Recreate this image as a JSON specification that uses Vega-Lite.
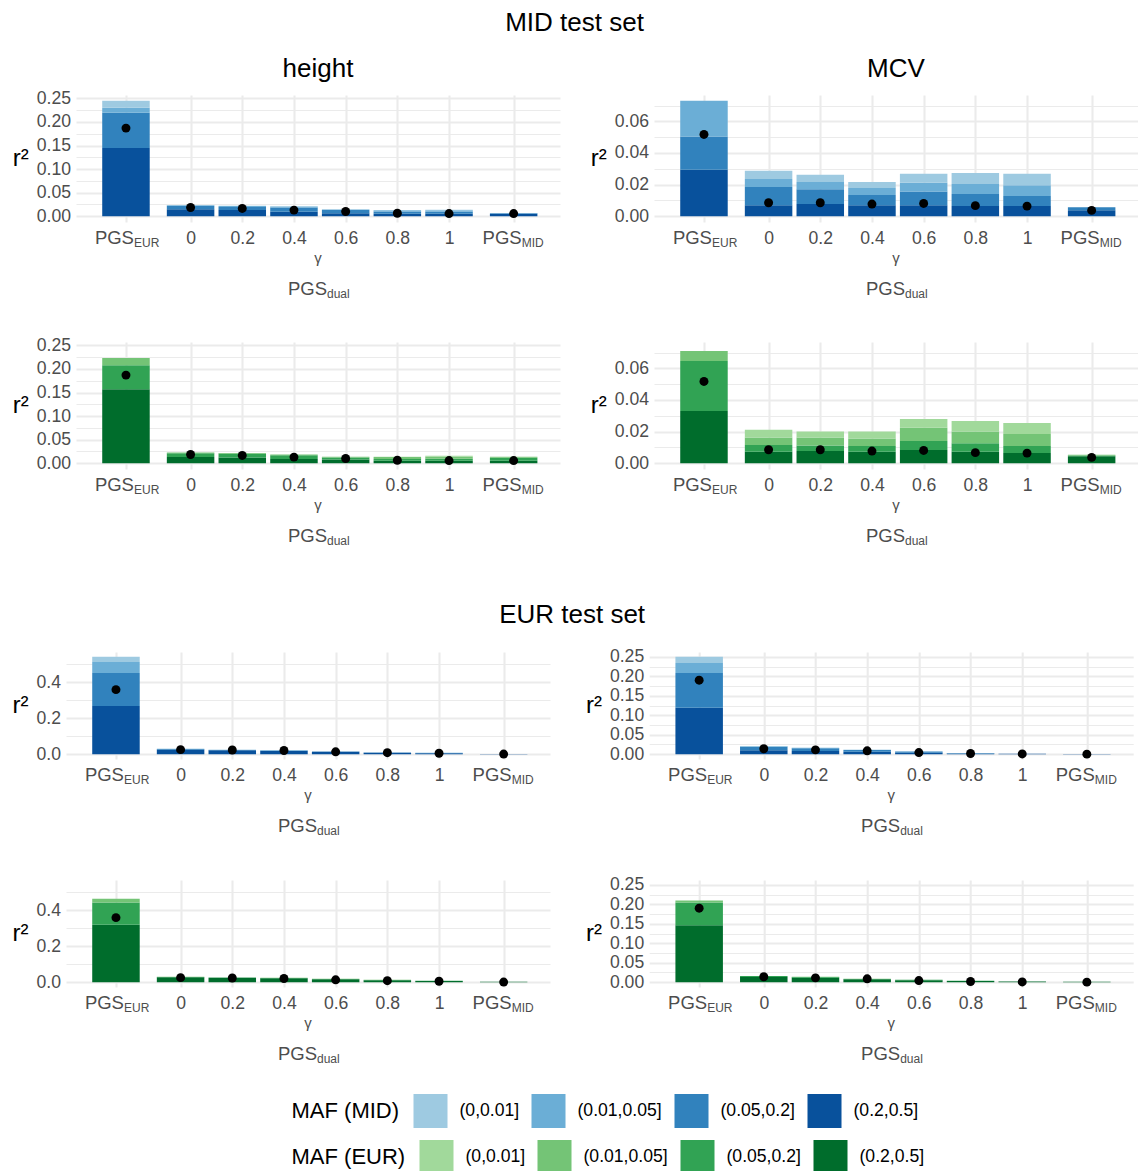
{
"$schema": "https://vega.github.io/schema/vega-lite/v6.json",
"padding": {"left": 11, "top": 10, "right": 0, "bottom": 0},
"background": "white",
"datasets": {
"bars": [
{"test":"MID","trait":"height","ref":"MID","pos":-0.25,"maf":"(0.2,0.5]","r2":0.145},
{"test":"MID","trait":"height","ref":"MID","pos":-0.25,"maf":"(0.05,0.2]","r2":0.0745},
{"test":"MID","trait":"height","ref":"MID","pos":-0.25,"maf":"(0.01,0.05]","r2":0.0105},
{"test":"MID","trait":"height","ref":"MID","pos":-0.25,"maf":"(0,0.01]","r2":0.015},
{"test":"MID","trait":"height","ref":"MID","pos":0,"maf":"(0.2,0.5]","r2":0.015},
{"test":"MID","trait":"height","ref":"MID","pos":0,"maf":"(0.05,0.2]","r2":0.0065},
{"test":"MID","trait":"height","ref":"MID","pos":0,"maf":"(0.01,0.05]","r2":0.002},
{"test":"MID","trait":"height","ref":"MID","pos":0,"maf":"(0,0.01]","r2":0.0005},
{"test":"MID","trait":"height","ref":"MID","pos":0.2,"maf":"(0.2,0.5]","r2":0.013},
{"test":"MID","trait":"height","ref":"MID","pos":0.2,"maf":"(0.05,0.2]","r2":0.0065},
{"test":"MID","trait":"height","ref":"MID","pos":0.2,"maf":"(0.01,0.05]","r2":0.002},
{"test":"MID","trait":"height","ref":"MID","pos":0.2,"maf":"(0,0.01]","r2":0.0005},
{"test":"MID","trait":"height","ref":"MID","pos":0.4,"maf":"(0.2,0.5]","r2":0.0095},
{"test":"MID","trait":"height","ref":"MID","pos":0.4,"maf":"(0.05,0.2]","r2":0.009},
{"test":"MID","trait":"height","ref":"MID","pos":0.4,"maf":"(0.01,0.05]","r2":0.002},
{"test":"MID","trait":"height","ref":"MID","pos":0.4,"maf":"(0,0.01]","r2":0.0005},
{"test":"MID","trait":"height","ref":"MID","pos":0.6,"maf":"(0.2,0.5]","r2":0.0065},
{"test":"MID","trait":"height","ref":"MID","pos":0.6,"maf":"(0.05,0.2]","r2":0.0065},
{"test":"MID","trait":"height","ref":"MID","pos":0.6,"maf":"(0.01,0.05]","r2":0.0015},
{"test":"MID","trait":"height","ref":"MID","pos":0.6,"maf":"(0,0.01]","r2":0.0005},
{"test":"MID","trait":"height","ref":"MID","pos":0.8,"maf":"(0.2,0.5]","r2":0.005},
{"test":"MID","trait":"height","ref":"MID","pos":0.8,"maf":"(0.05,0.2]","r2":0.005},
{"test":"MID","trait":"height","ref":"MID","pos":0.8,"maf":"(0.01,0.05]","r2":0.0025},
{"test":"MID","trait":"height","ref":"MID","pos":0.8,"maf":"(0,0.01]","r2":0.0005},
{"test":"MID","trait":"height","ref":"MID","pos":1,"maf":"(0.2,0.5]","r2":0.005},
{"test":"MID","trait":"height","ref":"MID","pos":1,"maf":"(0.05,0.2]","r2":0.0045},
{"test":"MID","trait":"height","ref":"MID","pos":1,"maf":"(0.01,0.05]","r2":0.003},
{"test":"MID","trait":"height","ref":"MID","pos":1,"maf":"(0,0.01]","r2":0.001},
{"test":"MID","trait":"height","ref":"MID","pos":1.25,"maf":"(0.2,0.5]","r2":0.005},
{"test":"MID","trait":"height","ref":"MID","pos":1.25,"maf":"(0.05,0.2]","r2":0.0015},
{"test":"MID","trait":"height","ref":"MID","pos":1.25,"maf":"(0.01,0.05]","r2":0.0003},
{"test":"MID","trait":"height","ref":"MID","pos":1.25,"maf":"(0,0.01]","r2":0.0002},

{"test":"MID","trait":"height","ref":"EUR","pos":-0.25,"maf_eur":"(0.2,0.5]","r2":0.157},
{"test":"MID","trait":"height","ref":"EUR","pos":-0.25,"maf_eur":"(0.05,0.2]","r2":0.0507},
{"test":"MID","trait":"height","ref":"EUR","pos":-0.25,"maf_eur":"(0.01,0.05]","r2":0.0155},
{"test":"MID","trait":"height","ref":"EUR","pos":0,"maf_eur":"(0.2,0.5]","r2":0.013},
{"test":"MID","trait":"height","ref":"EUR","pos":0,"maf_eur":"(0.05,0.2]","r2":0.008},
{"test":"MID","trait":"height","ref":"EUR","pos":0,"maf_eur":"(0.01,0.05]","r2":0.0015},
{"test":"MID","trait":"height","ref":"EUR","pos":0.2,"maf_eur":"(0.2,0.5]","r2":0.012},
{"test":"MID","trait":"height","ref":"EUR","pos":0.2,"maf_eur":"(0.05,0.2]","r2":0.008},
{"test":"MID","trait":"height","ref":"EUR","pos":0.2,"maf_eur":"(0.01,0.05]","r2":0.0018},
{"test":"MID","trait":"height","ref":"EUR","pos":0.4,"maf_eur":"(0.2,0.5]","r2":0.009},
{"test":"MID","trait":"height","ref":"EUR","pos":0.4,"maf_eur":"(0.05,0.2]","r2":0.008},
{"test":"MID","trait":"height","ref":"EUR","pos":0.4,"maf_eur":"(0.01,0.05]","r2":0.0015},
{"test":"MID","trait":"height","ref":"EUR","pos":0.6,"maf_eur":"(0.2,0.5]","r2":0.0078},
{"test":"MID","trait":"height","ref":"EUR","pos":0.6,"maf_eur":"(0.05,0.2]","r2":0.0045},
{"test":"MID","trait":"height","ref":"EUR","pos":0.6,"maf_eur":"(0.01,0.05]","r2":0.0015},
{"test":"MID","trait":"height","ref":"EUR","pos":0.6,"maf_eur":"(0,0.01]","r2":0.0002},
{"test":"MID","trait":"height","ref":"EUR","pos":0.8,"maf_eur":"(0.2,0.5]","r2":0.005},
{"test":"MID","trait":"height","ref":"EUR","pos":0.8,"maf_eur":"(0.05,0.2]","r2":0.004},
{"test":"MID","trait":"height","ref":"EUR","pos":0.8,"maf_eur":"(0.01,0.05]","r2":0.004},
{"test":"MID","trait":"height","ref":"EUR","pos":0.8,"maf_eur":"(0,0.01]","r2":0.001},
{"test":"MID","trait":"height","ref":"EUR","pos":1,"maf_eur":"(0.2,0.5]","r2":0.005},
{"test":"MID","trait":"height","ref":"EUR","pos":1,"maf_eur":"(0.05,0.2]","r2":0.0045},
{"test":"MID","trait":"height","ref":"EUR","pos":1,"maf_eur":"(0.01,0.05]","r2":0.004},
{"test":"MID","trait":"height","ref":"EUR","pos":1,"maf_eur":"(0,0.01]","r2":0.0025},
{"test":"MID","trait":"height","ref":"EUR","pos":1.25,"maf_eur":"(0.2,0.5]","r2":0.005},
{"test":"MID","trait":"height","ref":"EUR","pos":1.25,"maf_eur":"(0.05,0.2]","r2":0.0065},
{"test":"MID","trait":"height","ref":"EUR","pos":1.25,"maf_eur":"(0.01,0.05]","r2":0.002},
{"test":"MID","trait":"height","ref":"EUR","pos":1.25,"maf_eur":"(0,0.01]","r2":0.0005},

{"test":"MID","trait":"MCV","ref":"MID","pos":-0.25,"maf":"(0.2,0.5]","r2":0.0294},
{"test":"MID","trait":"MCV","ref":"MID","pos":-0.25,"maf":"(0.05,0.2]","r2":0.021},
{"test":"MID","trait":"MCV","ref":"MID","pos":-0.25,"maf":"(0.01,0.05]","r2":0.0226},
{"test":"MID","trait":"MCV","ref":"MID","pos":0,"maf":"(0.2,0.5]","r2":0.007},
{"test":"MID","trait":"MCV","ref":"MID","pos":0,"maf":"(0.05,0.2]","r2":0.0115},
{"test":"MID","trait":"MCV","ref":"MID","pos":0,"maf":"(0.01,0.05]","r2":0.0051},
{"test":"MID","trait":"MCV","ref":"MID","pos":0,"maf":"(0,0.01]","r2":0.0051},
{"test":"MID","trait":"MCV","ref":"MID","pos":0.2,"maf":"(0.2,0.5]","r2":0.0077},
{"test":"MID","trait":"MCV","ref":"MID","pos":0.2,"maf":"(0.05,0.2]","r2":0.0093},
{"test":"MID","trait":"MCV","ref":"MID","pos":0.2,"maf":"(0.01,0.05]","r2":0.0047},
{"test":"MID","trait":"MCV","ref":"MID","pos":0.2,"maf":"(0,0.01]","r2":0.0045},
{"test":"MID","trait":"MCV","ref":"MID","pos":0.4,"maf":"(0.2,0.5]","r2":0.007},
{"test":"MID","trait":"MCV","ref":"MID","pos":0.4,"maf":"(0.05,0.2]","r2":0.0064},
{"test":"MID","trait":"MCV","ref":"MID","pos":0.4,"maf":"(0.01,0.05]","r2":0.0045},
{"test":"MID","trait":"MCV","ref":"MID","pos":0.4,"maf":"(0,0.01]","r2":0.0038},
{"test":"MID","trait":"MCV","ref":"MID","pos":0.6,"maf":"(0.2,0.5]","r2":0.007},
{"test":"MID","trait":"MCV","ref":"MID","pos":0.6,"maf":"(0.05,0.2]","r2":0.0087},
{"test":"MID","trait":"MCV","ref":"MID","pos":0.6,"maf":"(0.01,0.05]","r2":0.0054},
{"test":"MID","trait":"MCV","ref":"MID","pos":0.6,"maf":"(0,0.01]","r2":0.0057},
{"test":"MID","trait":"MCV","ref":"MID","pos":0.8,"maf":"(0.2,0.5]","r2":0.0064},
{"test":"MID","trait":"MCV","ref":"MID","pos":0.8,"maf":"(0.05,0.2]","r2":0.0076},
{"test":"MID","trait":"MCV","ref":"MID","pos":0.8,"maf":"(0.01,0.05]","r2":0.0064},
{"test":"MID","trait":"MCV","ref":"MID","pos":0.8,"maf":"(0,0.01]","r2":0.007},
{"test":"MID","trait":"MCV","ref":"MID","pos":1,"maf":"(0.2,0.5]","r2":0.0064},
{"test":"MID","trait":"MCV","ref":"MID","pos":1,"maf":"(0.05,0.2]","r2":0.0064},
{"test":"MID","trait":"MCV","ref":"MID","pos":1,"maf":"(0.01,0.05]","r2":0.0068},
{"test":"MID","trait":"MCV","ref":"MID","pos":1,"maf":"(0,0.01]","r2":0.0072},
{"test":"MID","trait":"MCV","ref":"MID","pos":1.25,"maf":"(0.2,0.5]","r2":0.0038},
{"test":"MID","trait":"MCV","ref":"MID","pos":1.25,"maf":"(0.05,0.2]","r2":0.0019},

{"test":"MID","trait":"MCV","ref":"EUR","pos":-0.25,"maf_eur":"(0.2,0.5]","r2":0.0331},
{"test":"MID","trait":"MCV","ref":"EUR","pos":-0.25,"maf_eur":"(0.05,0.2]","r2":0.0315},
{"test":"MID","trait":"MCV","ref":"EUR","pos":-0.25,"maf_eur":"(0.01,0.05]","r2":0.0063},
{"test":"MID","trait":"MCV","ref":"EUR","pos":0,"maf_eur":"(0.2,0.5]","r2":0.0072},
{"test":"MID","trait":"MCV","ref":"EUR","pos":0,"maf_eur":"(0.05,0.2]","r2":0.0044},
{"test":"MID","trait":"MCV","ref":"EUR","pos":0,"maf_eur":"(0.01,0.05]","r2":0.0046},
{"test":"MID","trait":"MCV","ref":"EUR","pos":0,"maf_eur":"(0,0.01]","r2":0.0049},
{"test":"MID","trait":"MCV","ref":"EUR","pos":0.2,"maf_eur":"(0.2,0.5]","r2":0.0078},
{"test":"MID","trait":"MCV","ref":"EUR","pos":0.2,"maf_eur":"(0.05,0.2]","r2":0.0034},
{"test":"MID","trait":"MCV","ref":"EUR","pos":0.2,"maf_eur":"(0.01,0.05]","r2":0.005},
{"test":"MID","trait":"MCV","ref":"EUR","pos":0.2,"maf_eur":"(0,0.01]","r2":0.0038},
{"test":"MID","trait":"MCV","ref":"EUR","pos":0.4,"maf_eur":"(0.2,0.5]","r2":0.0072},
{"test":"MID","trait":"MCV","ref":"EUR","pos":0.4,"maf_eur":"(0.05,0.2]","r2":0.0037},
{"test":"MID","trait":"MCV","ref":"EUR","pos":0.4,"maf_eur":"(0.01,0.05]","r2":0.0047},
{"test":"MID","trait":"MCV","ref":"EUR","pos":0.4,"maf_eur":"(0,0.01]","r2":0.0044},
{"test":"MID","trait":"MCV","ref":"EUR","pos":0.6,"maf_eur":"(0.2,0.5]","r2":0.0084},
{"test":"MID","trait":"MCV","ref":"EUR","pos":0.6,"maf_eur":"(0.05,0.2]","r2":0.0057},
{"test":"MID","trait":"MCV","ref":"EUR","pos":0.6,"maf_eur":"(0.01,0.05]","r2":0.0084},
{"test":"MID","trait":"MCV","ref":"EUR","pos":0.6,"maf_eur":"(0,0.01]","r2":0.0055},
{"test":"MID","trait":"MCV","ref":"EUR","pos":0.8,"maf_eur":"(0.2,0.5]","r2":0.0072},
{"test":"MID","trait":"MCV","ref":"EUR","pos":0.8,"maf_eur":"(0.05,0.2]","r2":0.0054},
{"test":"MID","trait":"MCV","ref":"EUR","pos":0.8,"maf_eur":"(0.01,0.05]","r2":0.0074},
{"test":"MID","trait":"MCV","ref":"EUR","pos":0.8,"maf_eur":"(0,0.01]","r2":0.0067},
{"test":"MID","trait":"MCV","ref":"EUR","pos":1,"maf_eur":"(0.2,0.5]","r2":0.0065},
{"test":"MID","trait":"MCV","ref":"EUR","pos":1,"maf_eur":"(0.05,0.2]","r2":0.0044},
{"test":"MID","trait":"MCV","ref":"EUR","pos":1,"maf_eur":"(0.01,0.05]","r2":0.0076},
{"test":"MID","trait":"MCV","ref":"EUR","pos":1,"maf_eur":"(0,0.01]","r2":0.007},
{"test":"MID","trait":"MCV","ref":"EUR","pos":1.25,"maf_eur":"(0.2,0.5]","r2":0.0044},
{"test":"MID","trait":"MCV","ref":"EUR","pos":1.25,"maf_eur":"(0.05,0.2]","r2":0.0005},
{"test":"MID","trait":"MCV","ref":"EUR","pos":1.25,"maf_eur":"(0.01,0.05]","r2":0.0004},

{"test":"EUR","trait":"height","ref":"MID","pos":-0.25,"maf":"(0.2,0.5]","r2":0.267},
{"test":"EUR","trait":"height","ref":"MID","pos":-0.25,"maf":"(0.05,0.2]","r2":0.183},
{"test":"EUR","trait":"height","ref":"MID","pos":-0.25,"maf":"(0.01,0.05]","r2":0.062},
{"test":"EUR","trait":"height","ref":"MID","pos":-0.25,"maf":"(0,0.01]","r2":0.028},
{"test":"EUR","trait":"height","ref":"MID","pos":0,"maf":"(0.2,0.5]","r2":0.025},
{"test":"EUR","trait":"height","ref":"MID","pos":0,"maf":"(0.05,0.2]","r2":0.003},
{"test":"EUR","trait":"height","ref":"MID","pos":0,"maf":"(0.01,0.05]","r2":0.002},
{"test":"EUR","trait":"height","ref":"MID","pos":0.2,"maf":"(0.2,0.5]","r2":0.021},
{"test":"EUR","trait":"height","ref":"MID","pos":0.2,"maf":"(0.05,0.2]","r2":0.002},
{"test":"EUR","trait":"height","ref":"MID","pos":0.2,"maf":"(0.01,0.05]","r2":0.001},
{"test":"EUR","trait":"height","ref":"MID","pos":0.4,"maf":"(0.2,0.5]","r2":0.018},
{"test":"EUR","trait":"height","ref":"MID","pos":0.4,"maf":"(0.05,0.2]","r2":0.002},
{"test":"EUR","trait":"height","ref":"MID","pos":0.4,"maf":"(0.01,0.05]","r2":0.001},
{"test":"EUR","trait":"height","ref":"MID","pos":0.6,"maf":"(0.2,0.5]","r2":0.013},
{"test":"EUR","trait":"height","ref":"MID","pos":0.6,"maf":"(0.05,0.2]","r2":0.0015},
{"test":"EUR","trait":"height","ref":"MID","pos":0.6,"maf":"(0.01,0.05]","r2":0.0005},
{"test":"EUR","trait":"height","ref":"MID","pos":0.8,"maf":"(0.2,0.5]","r2":0.008},
{"test":"EUR","trait":"height","ref":"MID","pos":0.8,"maf":"(0.05,0.2]","r2":0.001},
{"test":"EUR","trait":"height","ref":"MID","pos":0.8,"maf":"(0.01,0.05]","r2":0.0003},
{"test":"EUR","trait":"height","ref":"MID","pos":1,"maf":"(0.2,0.5]","r2":0.005},
{"test":"EUR","trait":"height","ref":"MID","pos":1,"maf":"(0.05,0.2]","r2":0.0015},
{"test":"EUR","trait":"height","ref":"MID","pos":1,"maf":"(0.01,0.05]","r2":0.001},
{"test":"EUR","trait":"height","ref":"MID","pos":1.25,"maf":"(0.2,0.5]","r2":0.001},
{"test":"EUR","trait":"height","ref":"MID","pos":1.25,"maf":"(0.05,0.2]","r2":0.0003},

{"test":"EUR","trait":"height","ref":"EUR","pos":-0.25,"maf_eur":"(0.2,0.5]","r2":0.3185},
{"test":"EUR","trait":"height","ref":"EUR","pos":-0.25,"maf_eur":"(0.05,0.2]","r2":0.124},
{"test":"EUR","trait":"height","ref":"EUR","pos":-0.25,"maf_eur":"(0.01,0.05]","r2":0.02},
{"test":"EUR","trait":"height","ref":"EUR","pos":0,"maf_eur":"(0.2,0.5]","r2":0.027},
{"test":"EUR","trait":"height","ref":"EUR","pos":0,"maf_eur":"(0.05,0.2]","r2":0.002},
{"test":"EUR","trait":"height","ref":"EUR","pos":0,"maf_eur":"(0.01,0.05]","r2":0.0006},
{"test":"EUR","trait":"height","ref":"EUR","pos":0.2,"maf_eur":"(0.2,0.5]","r2":0.024},
{"test":"EUR","trait":"height","ref":"EUR","pos":0.2,"maf_eur":"(0.05,0.2]","r2":0.0015},
{"test":"EUR","trait":"height","ref":"EUR","pos":0.2,"maf_eur":"(0.01,0.05]","r2":0.0005},
{"test":"EUR","trait":"height","ref":"EUR","pos":0.4,"maf_eur":"(0.2,0.5]","r2":0.021},
{"test":"EUR","trait":"height","ref":"EUR","pos":0.4,"maf_eur":"(0.05,0.2]","r2":0.0025},
{"test":"EUR","trait":"height","ref":"EUR","pos":0.4,"maf_eur":"(0.01,0.05]","r2":0.0005},
{"test":"EUR","trait":"height","ref":"EUR","pos":0.6,"maf_eur":"(0.2,0.5]","r2":0.016},
{"test":"EUR","trait":"height","ref":"EUR","pos":0.6,"maf_eur":"(0.05,0.2]","r2":0.002},
{"test":"EUR","trait":"height","ref":"EUR","pos":0.6,"maf_eur":"(0.01,0.05]","r2":0.0005},
{"test":"EUR","trait":"height","ref":"EUR","pos":0.8,"maf_eur":"(0.2,0.5]","r2":0.011},
{"test":"EUR","trait":"height","ref":"EUR","pos":0.8,"maf_eur":"(0.05,0.2]","r2":0.0015},
{"test":"EUR","trait":"height","ref":"EUR","pos":0.8,"maf_eur":"(0.01,0.05]","r2":0.0005},
{"test":"EUR","trait":"height","ref":"EUR","pos":1,"maf_eur":"(0.2,0.5]","r2":0.0065},
{"test":"EUR","trait":"height","ref":"EUR","pos":1,"maf_eur":"(0.05,0.2]","r2":0.0007},
{"test":"EUR","trait":"height","ref":"EUR","pos":1,"maf_eur":"(0.01,0.05]","r2":0.0002},
{"test":"EUR","trait":"height","ref":"EUR","pos":1.25,"maf_eur":"(0.2,0.5]","r2":0.0018},
{"test":"EUR","trait":"height","ref":"EUR","pos":1.25,"maf_eur":"(0.05,0.2]","r2":0.0002},

{"test":"EUR","trait":"MCV","ref":"MID","pos":-0.25,"maf":"(0.2,0.5]","r2":0.119},
{"test":"EUR","trait":"MCV","ref":"MID","pos":-0.25,"maf":"(0.05,0.2]","r2":0.0895},
{"test":"EUR","trait":"MCV","ref":"MID","pos":-0.25,"maf":"(0.01,0.05]","r2":0.026},
{"test":"EUR","trait":"MCV","ref":"MID","pos":-0.25,"maf":"(0,0.01]","r2":0.0156},
{"test":"EUR","trait":"MCV","ref":"MID","pos":0,"maf":"(0.2,0.5]","r2":0.01},
{"test":"EUR","trait":"MCV","ref":"MID","pos":0,"maf":"(0.05,0.2]","r2":0.009},
{"test":"EUR","trait":"MCV","ref":"MID","pos":0,"maf":"(0.01,0.05]","r2":0.0015},
{"test":"EUR","trait":"MCV","ref":"MID","pos":0,"maf":"(0,0.01]","r2":0.0003},
{"test":"EUR","trait":"MCV","ref":"MID","pos":0.2,"maf":"(0.2,0.5]","r2":0.008},
{"test":"EUR","trait":"MCV","ref":"MID","pos":0.2,"maf":"(0.05,0.2]","r2":0.007},
{"test":"EUR","trait":"MCV","ref":"MID","pos":0.2,"maf":"(0.01,0.05]","r2":0.0012},
{"test":"EUR","trait":"MCV","ref":"MID","pos":0.2,"maf":"(0,0.01]","r2":0.0002},
{"test":"EUR","trait":"MCV","ref":"MID","pos":0.4,"maf":"(0.2,0.5]","r2":0.006},
{"test":"EUR","trait":"MCV","ref":"MID","pos":0.4,"maf":"(0.05,0.2]","r2":0.0045},
{"test":"EUR","trait":"MCV","ref":"MID","pos":0.4,"maf":"(0.01,0.05]","r2":0.0007},
{"test":"EUR","trait":"MCV","ref":"MID","pos":0.6,"maf":"(0.2,0.5]","r2":0.0035},
{"test":"EUR","trait":"MCV","ref":"MID","pos":0.6,"maf":"(0.05,0.2]","r2":0.003},
{"test":"EUR","trait":"MCV","ref":"MID","pos":0.6,"maf":"(0.01,0.05]","r2":0.0004},
{"test":"EUR","trait":"MCV","ref":"MID","pos":0.8,"maf":"(0.2,0.5]","r2":0.0015},
{"test":"EUR","trait":"MCV","ref":"MID","pos":0.8,"maf":"(0.05,0.2]","r2":0.0009},
{"test":"EUR","trait":"MCV","ref":"MID","pos":0.8,"maf":"(0.01,0.05]","r2":0.0002},
{"test":"EUR","trait":"MCV","ref":"MID","pos":1,"maf":"(0.2,0.5]","r2":0.0007},
{"test":"EUR","trait":"MCV","ref":"MID","pos":1,"maf":"(0.05,0.2]","r2":0.0003},
{"test":"EUR","trait":"MCV","ref":"MID","pos":1.25,"maf":"(0.2,0.5]","r2":0.0005},

{"test":"EUR","trait":"MCV","ref":"EUR","pos":-0.25,"maf_eur":"(0.2,0.5]","r2":0.146},
{"test":"EUR","trait":"MCV","ref":"EUR","pos":-0.25,"maf_eur":"(0.05,0.2]","r2":0.0588},
{"test":"EUR","trait":"MCV","ref":"EUR","pos":-0.25,"maf_eur":"(0.01,0.05]","r2":0.005},
{"test":"EUR","trait":"MCV","ref":"EUR","pos":0,"maf_eur":"(0.2,0.5]","r2":0.013},
{"test":"EUR","trait":"MCV","ref":"EUR","pos":0,"maf_eur":"(0.05,0.2]","r2":0.0025},
{"test":"EUR","trait":"MCV","ref":"EUR","pos":0,"maf_eur":"(0.01,0.05]","r2":0.0005},
{"test":"EUR","trait":"MCV","ref":"EUR","pos":0.2,"maf_eur":"(0.2,0.5]","r2":0.011},
{"test":"EUR","trait":"MCV","ref":"EUR","pos":0.2,"maf_eur":"(0.05,0.2]","r2":0.0022},
{"test":"EUR","trait":"MCV","ref":"EUR","pos":0.2,"maf_eur":"(0.01,0.05]","r2":0.0005},
{"test":"EUR","trait":"MCV","ref":"EUR","pos":0.4,"maf_eur":"(0.2,0.5]","r2":0.0072},
{"test":"EUR","trait":"MCV","ref":"EUR","pos":0.4,"maf_eur":"(0.05,0.2]","r2":0.0011},
{"test":"EUR","trait":"MCV","ref":"EUR","pos":0.4,"maf_eur":"(0.01,0.05]","r2":0.0002},
{"test":"EUR","trait":"MCV","ref":"EUR","pos":0.6,"maf_eur":"(0.2,0.5]","r2":0.005},
{"test":"EUR","trait":"MCV","ref":"EUR","pos":0.6,"maf_eur":"(0.05,0.2]","r2":0.0009},
{"test":"EUR","trait":"MCV","ref":"EUR","pos":0.6,"maf_eur":"(0.01,0.05]","r2":0.0001},
{"test":"EUR","trait":"MCV","ref":"EUR","pos":0.8,"maf_eur":"(0.2,0.5]","r2":0.0028},
{"test":"EUR","trait":"MCV","ref":"EUR","pos":0.8,"maf_eur":"(0.05,0.2]","r2":0.0005},
{"test":"EUR","trait":"MCV","ref":"EUR","pos":0.8,"maf_eur":"(0.01,0.05]","r2":0.0001},
{"test":"EUR","trait":"MCV","ref":"EUR","pos":1,"maf_eur":"(0.2,0.5]","r2":0.0014},
{"test":"EUR","trait":"MCV","ref":"EUR","pos":1,"maf_eur":"(0.05,0.2]","r2":0.0003},
{"test":"EUR","trait":"MCV","ref":"EUR","pos":1.25,"maf_eur":"(0.2,0.5]","r2":0.0009},
{"test":"EUR","trait":"MCV","ref":"EUR","pos":1.25,"maf_eur":"(0.05,0.2]","r2":0.0001}
],
"points": [
{"test":"MID","trait":"height","pos":-0.25,"r2":0.187},
{"test":"MID","trait":"height","pos":0,"r2":0.0185},
{"test":"MID","trait":"height","pos":0.2,"r2":0.0165},
{"test":"MID","trait":"height","pos":0.4,"r2":0.013},
{"test":"MID","trait":"height","pos":0.6,"r2":0.01},
{"test":"MID","trait":"height","pos":0.8,"r2":0.0063},
{"test":"MID","trait":"height","pos":1,"r2":0.0056},
{"test":"MID","trait":"height","pos":1.25,"r2":0.0056},
{"test":"MID","trait":"MCV","pos":-0.25,"r2":0.0517},
{"test":"MID","trait":"MCV","pos":0,"r2":0.0085},
{"test":"MID","trait":"MCV","pos":0.2,"r2":0.0085},
{"test":"MID","trait":"MCV","pos":0.4,"r2":0.0077},
{"test":"MID","trait":"MCV","pos":0.6,"r2":0.0081},
{"test":"MID","trait":"MCV","pos":0.8,"r2":0.0067},
{"test":"MID","trait":"MCV","pos":1,"r2":0.0064},
{"test":"MID","trait":"MCV","pos":1.25,"r2":0.0037},
{"test":"EUR","trait":"height","pos":-0.25,"r2":0.358},
{"test":"EUR","trait":"height","pos":0,"r2":0.025},
{"test":"EUR","trait":"height","pos":0.2,"r2":0.023},
{"test":"EUR","trait":"height","pos":0.4,"r2":0.02},
{"test":"EUR","trait":"height","pos":0.6,"r2":0.013},
{"test":"EUR","trait":"height","pos":0.8,"r2":0.008},
{"test":"EUR","trait":"height","pos":1,"r2":0.005},
{"test":"EUR","trait":"height","pos":1.25,"r2":0.0003},
{"test":"EUR","trait":"MCV","pos":-0.25,"r2":0.19},
{"test":"EUR","trait":"MCV","pos":0,"r2":0.0138},
{"test":"EUR","trait":"MCV","pos":0.2,"r2":0.011},
{"test":"EUR","trait":"MCV","pos":0.4,"r2":0.0085},
{"test":"EUR","trait":"MCV","pos":0.6,"r2":0.004},
{"test":"EUR","trait":"MCV","pos":0.8,"r2":0.0017},
{"test":"EUR","trait":"MCV","pos":1,"r2":0.0005},
{"test":"EUR","trait":"MCV","pos":1.25,"r2":0.0}
],
"xlab": [
{"kind":"main","pos":-0.25,"t":"PGS"},
{"kind":"main","pos":1.25,"t":"PGS"},
{"kind":"sub","pos":-0.25,"t":"EUR"},
{"kind":"sub","pos":1.25,"t":"MID"},
{"kind":"gamma","t":"γ"},
{"kind":"title","t":"PGS"},
{"kind":"titlesub","t":"dual"}
],
"spacer": [{"k": 0}]
},
"config": {
"font": "Liberation Sans",
"view": {"stroke": null},
"axis": {"ticks": false, "domain": false, "labelFont": "Liberation Sans", "labelFontSize": 17.6, "labelColor": "#4D4D4D", "gridColor": "#EBEBEB", "gridWidth": 2.1, "labelOverlap": false, "labelFlush": false, "titleFont": "Liberation Sans", "titleFontWeight": "normal", "titleColor": "#000000"},
"axisX": {"labelPadding": 7},
"axisY": {"labelPadding": 5.5, "titleAngle": 0, "titleFontSize": 24, "titlePadding": 8, "titleAlign": "right", "titleBaseline": "middle"},
"legend": {"orient": "none", "direction": "horizontal", "titleOrient": "left", "titleFont": "Liberation Sans", "titleFontSize": 22, "titleFontWeight": "normal", "titleColor": "#000000", "labelFont": "Liberation Sans", "labelFontSize": 17.6, "labelColor": "#000000", "symbolType": "square", "symbolSize": 1156, "symbolStrokeWidth": 0, "symbolOpacity": 1, "labelOffset": 12, "columnPadding": 12, "titlePadding": 14, "titleLimit": 300},
"title": {"font": "Liberation Sans", "fontSize": 26, "fontWeight": "normal", "color": "#000000", "anchor": "middle", "baseline": "alphabetic"}
},
"spacing": 54,
"vconcat": [
{
"title": {"text": "MID test set", "offset": 20},
"spacing": 30,
"hconcat": [
{"spacing": 0, "hconcat": [
{"width": 1, "height": 1, "data": {"name": "spacer"}, "mark": {"type": "point", "opacity": 0, "size": 1}, "encoding": {}},
{"bounds": "flush", "spacing": 120, "vconcat": [
{"title": {"text": "height", "offset": 7.2, "frame": "group"}, "width": 484, "height": 127,
"layer": [
{"data": {"name": "bars"}, "transform": [{"filter": "datum.test=='MID' && datum.trait=='height' && datum.ref=='MID'"}],
"mark": {"type": "bar", "width": 47.5},
"encoding": {
"x": {"field": "pos", "type": "quantitative", "scale": {"domain": [-0.424, 1.41], "nice": false, "zero": false}, "axis": {"title": null, "labelOverlap": false, "tickCount": 50, "values": [-0.25,0,0.2,0.4,0.6,0.8,1,1.25], "labelExpr": "datum.value < -0.1 || datum.value > 1.1 ? '' : format(datum.value, '')"}},
"y": {"field": "r2", "type": "quantitative", "stack": "zero", "scale": {"domain": [-0.01225, 0.25725], "nice": false, "zero": false}, "axis": {"title": "r²", "labelOverlap": false, "tickCount": 50, "values": [0,0.025,0.05,0.075,0.1,0.125,0.15,0.175,0.2,0.225,0.25], "labelExpr": "round(datum.value*40)%2==1 ? '' : format(datum.value, '.2f')", "gridWidth": {"condition": {"test": "round(datum.value*40)%2==1", "value": 1.07}, "value": 2.1}}},
"color": {"field": "maf", "type": "nominal", "scale": {"range": ["#9ECAE1","#6BAED6","#3182BD","#08519C"]}, "legend": {"title": "MAF (MID)", "legendX": 280.5, "legendY": 999}},
"order": {"field": "maf", "sort": "descending"}}},
{"data": {"name": "points"}, "transform": [{"filter": "datum.test=='MID' && datum.trait=='height'"}],
"mark": {"type": "point", "filled": true, "color": "black", "size": 80, "opacity": 1},
"encoding": {"x": {"field": "pos", "type": "quantitative"}, "y": {"field": "r2", "type": "quantitative"}}},
{"data": {"name": "xlab"}, "transform": [{"filter": "datum.kind=='main'"}], "mark": {"type": "text", "align": "right", "baseline": "alphabetic", "dx": 8, "dy": 21.5, "fontSize": 18.5, "color": "#4D4D4D"}, "encoding": {"x": {"field": "pos", "type": "quantitative"}, "y": {"datum": -0.01225}, "text": {"field": "t"}}},
{"data": {"name": "xlab"}, "transform": [{"filter": "datum.kind=='sub'"}], "mark": {"type": "text", "align": "left", "baseline": "alphabetic", "dx": 8, "dy": 25, "fontSize": 12, "color": "#4D4D4D"}, "encoding": {"x": {"field": "pos", "type": "quantitative"}, "y": {"datum": -0.01225}, "text": {"field": "t"}}},
{"data": {"name": "xlab"}, "transform": [{"filter": "datum.kind=='gamma'"}], "mark": {"type": "text", "align": "center", "baseline": "alphabetic", "dy": 41, "fontSize": 15, "color": "#4D4D4D"}, "encoding": {"x": {"datum": 0.493}, "y": {"datum": -0.01225}, "text": {"field": "t"}}},
{"data": {"name": "xlab"}, "transform": [{"filter": "datum.kind=='title'"}], "mark": {"type": "text", "align": "right", "baseline": "alphabetic", "dx": 9, "dy": 72.5, "fontSize": 18.5, "color": "#4D4D4D"}, "encoding": {"x": {"datum": 0.493}, "y": {"datum": -0.01225}, "text": {"field": "t"}}},
{"data": {"name": "xlab"}, "transform": [{"filter": "datum.kind=='titlesub'"}], "mark": {"type": "text", "align": "left", "baseline": "alphabetic", "dx": 9, "dy": 76, "fontSize": 12, "color": "#4D4D4D"}, "encoding": {"x": {"datum": 0.493}, "y": {"datum": -0.01225}, "text": {"field": "t"}}}
]},
{"width": 484, "height": 127,
"layer": [
{"data": {"name": "bars"}, "transform": [{"filter": "datum.test=='MID' && datum.trait=='height' && datum.ref=='EUR'"}],
"mark": {"type": "bar", "width": 47.5},
"encoding": {
"x": {"field": "pos", "type": "quantitative", "scale": {"domain": [-0.424, 1.41], "nice": false, "zero": false}, "axis": {"title": null, "labelOverlap": false, "tickCount": 50, "values": [-0.25,0,0.2,0.4,0.6,0.8,1,1.25], "labelExpr": "datum.value < -0.1 || datum.value > 1.1 ? '' : format(datum.value, '')"}},
"y": {"field": "r2", "type": "quantitative", "stack": "zero", "scale": {"domain": [-0.01225, 0.25725], "nice": false, "zero": false}, "axis": {"title": "r²", "labelOverlap": false, "tickCount": 50, "values": [0,0.025,0.05,0.075,0.1,0.125,0.15,0.175,0.2,0.225,0.25], "labelExpr": "round(datum.value*40)%2==1 ? '' : format(datum.value, '.2f')", "gridWidth": {"condition": {"test": "round(datum.value*40)%2==1", "value": 1.07}, "value": 2.1}}},
"fill": {"field": "maf_eur", "type": "nominal", "scale": {"range": ["#A1D99B","#74C476","#31A354","#006D2C"]}, "legend": {"title": "MAF (EUR)", "legendX": 280.5, "legendY": 1045}},
"order": {"field": "maf_eur", "sort": "descending"}}},
{"data": {"name": "points"}, "transform": [{"filter": "datum.test=='MID' && datum.trait=='height'"}],
"mark": {"type": "point", "filled": true, "color": "black", "size": 80, "opacity": 1},
"encoding": {"x": {"field": "pos", "type": "quantitative"}, "y": {"field": "r2", "type": "quantitative"}}},
{"data": {"name": "xlab"}, "transform": [{"filter": "datum.kind=='main'"}], "mark": {"type": "text", "align": "right", "baseline": "alphabetic", "dx": 8, "dy": 21.5, "fontSize": 18.5, "color": "#4D4D4D"}, "encoding": {"x": {"field": "pos", "type": "quantitative"}, "y": {"datum": -0.01225}, "text": {"field": "t"}}},
{"data": {"name": "xlab"}, "transform": [{"filter": "datum.kind=='sub'"}], "mark": {"type": "text", "align": "left", "baseline": "alphabetic", "dx": 8, "dy": 25, "fontSize": 12, "color": "#4D4D4D"}, "encoding": {"x": {"field": "pos", "type": "quantitative"}, "y": {"datum": -0.01225}, "text": {"field": "t"}}},
{"data": {"name": "xlab"}, "transform": [{"filter": "datum.kind=='gamma'"}], "mark": {"type": "text", "align": "center", "baseline": "alphabetic", "dy": 41, "fontSize": 15, "color": "#4D4D4D"}, "encoding": {"x": {"datum": 0.493}, "y": {"datum": -0.01225}, "text": {"field": "t"}}},
{"data": {"name": "xlab"}, "transform": [{"filter": "datum.kind=='title'"}], "mark": {"type": "text", "align": "right", "baseline": "alphabetic", "dx": 9, "dy": 72.5, "fontSize": 18.5, "color": "#4D4D4D"}, "encoding": {"x": {"datum": 0.493}, "y": {"datum": -0.01225}, "text": {"field": "t"}}},
{"data": {"name": "xlab"}, "transform": [{"filter": "datum.kind=='titlesub'"}], "mark": {"type": "text", "align": "left", "baseline": "alphabetic", "dx": 9, "dy": 76, "fontSize": 12, "color": "#4D4D4D"}, "encoding": {"x": {"datum": 0.493}, "y": {"datum": -0.01225}, "text": {"field": "t"}}}
]}
]}
]},
{"bounds": "flush", "spacing": 120, "vconcat": [
{"title": {"text": "MCV", "offset": 12.6, "frame": "group"}, "width": 484, "height": 127,
"layer": [
{"data": {"name": "bars"}, "transform": [{"filter": "datum.test=='MID' && datum.trait=='MCV' && datum.ref=='MID'"}],
"mark": {"type": "bar", "width": 47.5},
"encoding": {
"x": {"field": "pos", "type": "quantitative", "scale": {"domain": [-0.424, 1.41], "nice": false, "zero": false}, "axis": {"title": null, "labelOverlap": false, "tickCount": 50, "values": [-0.25,0,0.2,0.4,0.6,0.8,1,1.25], "labelExpr": "datum.value < -0.1 || datum.value > 1.1 ? '' : format(datum.value, '')"}},
"y": {"field": "r2", "type": "quantitative", "stack": "zero", "scale": {"domain": [-0.00365, 0.07665], "nice": false, "zero": false}, "axis": {"title": "r²", "labelOverlap": false, "tickCount": 50, "values": [0,0.01,0.02,0.03,0.04,0.05,0.06,0.07], "labelExpr": "round(datum.value*100)%2==1 ? '' : format(datum.value, '.2f')", "gridWidth": {"condition": {"test": "round(datum.value*100)%2==1", "value": 1.07}, "value": 2.1}}},
"color": {"field": "maf", "type": "nominal", "scale": {"range": ["#9ECAE1","#6BAED6","#3182BD","#08519C"]}, "legend": {"title": "MAF (MID)", "legendX": 280.5, "legendY": 999}},
"order": {"field": "maf", "sort": "descending"}}},
{"data": {"name": "points"}, "transform": [{"filter": "datum.test=='MID' && datum.trait=='MCV'"}],
"mark": {"type": "point", "filled": true, "color": "black", "size": 80, "opacity": 1},
"encoding": {"x": {"field": "pos", "type": "quantitative"}, "y": {"field": "r2", "type": "quantitative"}}},
{"data": {"name": "xlab"}, "transform": [{"filter": "datum.kind=='main'"}], "mark": {"type": "text", "align": "right", "baseline": "alphabetic", "dx": 8, "dy": 21.5, "fontSize": 18.5, "color": "#4D4D4D"}, "encoding": {"x": {"field": "pos", "type": "quantitative"}, "y": {"datum": -0.00365}, "text": {"field": "t"}}},
{"data": {"name": "xlab"}, "transform": [{"filter": "datum.kind=='sub'"}], "mark": {"type": "text", "align": "left", "baseline": "alphabetic", "dx": 8, "dy": 25, "fontSize": 12, "color": "#4D4D4D"}, "encoding": {"x": {"field": "pos", "type": "quantitative"}, "y": {"datum": -0.00365}, "text": {"field": "t"}}},
{"data": {"name": "xlab"}, "transform": [{"filter": "datum.kind=='gamma'"}], "mark": {"type": "text", "align": "center", "baseline": "alphabetic", "dy": 41, "fontSize": 15, "color": "#4D4D4D"}, "encoding": {"x": {"datum": 0.493}, "y": {"datum": -0.00365}, "text": {"field": "t"}}},
{"data": {"name": "xlab"}, "transform": [{"filter": "datum.kind=='title'"}], "mark": {"type": "text", "align": "right", "baseline": "alphabetic", "dx": 9, "dy": 72.5, "fontSize": 18.5, "color": "#4D4D4D"}, "encoding": {"x": {"datum": 0.493}, "y": {"datum": -0.00365}, "text": {"field": "t"}}},
{"data": {"name": "xlab"}, "transform": [{"filter": "datum.kind=='titlesub'"}], "mark": {"type": "text", "align": "left", "baseline": "alphabetic", "dx": 9, "dy": 76, "fontSize": 12, "color": "#4D4D4D"}, "encoding": {"x": {"datum": 0.493}, "y": {"datum": -0.00365}, "text": {"field": "t"}}}
]},
{"width": 484, "height": 127,
"layer": [
{"data": {"name": "bars"}, "transform": [{"filter": "datum.test=='MID' && datum.trait=='MCV' && datum.ref=='EUR'"}],
"mark": {"type": "bar", "width": 47.5},
"encoding": {
"x": {"field": "pos", "type": "quantitative", "scale": {"domain": [-0.424, 1.41], "nice": false, "zero": false}, "axis": {"title": null, "labelOverlap": false, "tickCount": 50, "values": [-0.25,0,0.2,0.4,0.6,0.8,1,1.25], "labelExpr": "datum.value < -0.1 || datum.value > 1.1 ? '' : format(datum.value, '')"}},
"y": {"field": "r2", "type": "quantitative", "stack": "zero", "scale": {"domain": [-0.00365, 0.07665], "nice": false, "zero": false}, "axis": {"title": "r²", "labelOverlap": false, "tickCount": 50, "values": [0,0.01,0.02,0.03,0.04,0.05,0.06,0.07], "labelExpr": "round(datum.value*100)%2==1 ? '' : format(datum.value, '.2f')", "gridWidth": {"condition": {"test": "round(datum.value*100)%2==1", "value": 1.07}, "value": 2.1}}},
"fill": {"field": "maf_eur", "type": "nominal", "scale": {"range": ["#A1D99B","#74C476","#31A354","#006D2C"]}, "legend": {"title": "MAF (EUR)", "legendX": 280.5, "legendY": 1045}},
"order": {"field": "maf_eur", "sort": "descending"}}},
{"data": {"name": "points"}, "transform": [{"filter": "datum.test=='MID' && datum.trait=='MCV'"}],
"mark": {"type": "point", "filled": true, "color": "black", "size": 80, "opacity": 1},
"encoding": {"x": {"field": "pos", "type": "quantitative"}, "y": {"field": "r2", "type": "quantitative"}}},
{"data": {"name": "xlab"}, "transform": [{"filter": "datum.kind=='main'"}], "mark": {"type": "text", "align": "right", "baseline": "alphabetic", "dx": 8, "dy": 21.5, "fontSize": 18.5, "color": "#4D4D4D"}, "encoding": {"x": {"field": "pos", "type": "quantitative"}, "y": {"datum": -0.00365}, "text": {"field": "t"}}},
{"data": {"name": "xlab"}, "transform": [{"filter": "datum.kind=='sub'"}], "mark": {"type": "text", "align": "left", "baseline": "alphabetic", "dx": 8, "dy": 25, "fontSize": 12, "color": "#4D4D4D"}, "encoding": {"x": {"field": "pos", "type": "quantitative"}, "y": {"datum": -0.00365}, "text": {"field": "t"}}},
{"data": {"name": "xlab"}, "transform": [{"filter": "datum.kind=='gamma'"}], "mark": {"type": "text", "align": "center", "baseline": "alphabetic", "dy": 41, "fontSize": 15, "color": "#4D4D4D"}, "encoding": {"x": {"datum": 0.493}, "y": {"datum": -0.00365}, "text": {"field": "t"}}},
{"data": {"name": "xlab"}, "transform": [{"filter": "datum.kind=='title'"}], "mark": {"type": "text", "align": "right", "baseline": "alphabetic", "dx": 9, "dy": 72.5, "fontSize": 18.5, "color": "#4D4D4D"}, "encoding": {"x": {"datum": 0.493}, "y": {"datum": -0.00365}, "text": {"field": "t"}}},
{"data": {"name": "xlab"}, "transform": [{"filter": "datum.kind=='titlesub'"}], "mark": {"type": "text", "align": "left", "baseline": "alphabetic", "dx": 9, "dy": 76, "fontSize": 12, "color": "#4D4D4D"}, "encoding": {"x": {"datum": 0.493}, "y": {"datum": -0.00365}, "text": {"field": "t"}}}
]}
]}
]
},
{
"title": {"text": "EUR test set", "offset": 20},
"spacing": 35.2,
"hconcat": [
{"spacing": 0, "hconcat": [
{"width": 1, "height": 1, "data": {"name": "spacer"}, "mark": {"type": "point", "opacity": 0, "size": 1}, "encoding": {}},
{"bounds": "flush", "spacing": 121, "vconcat": [
{"width": 484, "height": 107,
"layer": [
{"data": {"name": "bars"}, "transform": [{"filter": "datum.test=='EUR' && datum.trait=='height' && datum.ref=='MID'"}],
"mark": {"type": "bar", "width": 47.5},
"encoding": {
"x": {"field": "pos", "type": "quantitative", "scale": {"domain": [-0.424, 1.41], "nice": false, "zero": false}, "axis": {"title": null, "labelOverlap": false, "tickCount": 50, "values": [-0.25,0,0.2,0.4,0.6,0.8,1,1.25], "labelExpr": "datum.value < -0.1 || datum.value > 1.1 ? '' : format(datum.value, '')"}},
"y": {"field": "r2", "type": "quantitative", "stack": "zero", "scale": {"domain": [-0.027, 0.567], "nice": false, "zero": false}, "axis": {"title": "r²", "labelOverlap": false, "tickCount": 50, "values": [0,0.1,0.2,0.3,0.4,0.5], "labelExpr": "round(datum.value*10)%2==1 ? '' : format(datum.value, '.1f')", "gridWidth": {"condition": {"test": "round(datum.value*10)%2==1", "value": 1.07}, "value": 2.1}}},
"color": {"field": "maf", "type": "nominal", "scale": {"range": ["#9ECAE1","#6BAED6","#3182BD","#08519C"]}, "legend": {"title": "MAF (MID)", "legendX": 280.5, "legendY": 999}},
"order": {"field": "maf", "sort": "descending"}}},
{"data": {"name": "points"}, "transform": [{"filter": "datum.test=='EUR' && datum.trait=='height'"}],
"mark": {"type": "point", "filled": true, "color": "black", "size": 80, "opacity": 1},
"encoding": {"x": {"field": "pos", "type": "quantitative"}, "y": {"field": "r2", "type": "quantitative"}}},
{"data": {"name": "xlab"}, "transform": [{"filter": "datum.kind=='main'"}], "mark": {"type": "text", "align": "right", "baseline": "alphabetic", "dx": 8, "dy": 21.5, "fontSize": 18.5, "color": "#4D4D4D"}, "encoding": {"x": {"field": "pos", "type": "quantitative"}, "y": {"datum": -0.027}, "text": {"field": "t"}}},
{"data": {"name": "xlab"}, "transform": [{"filter": "datum.kind=='sub'"}], "mark": {"type": "text", "align": "left", "baseline": "alphabetic", "dx": 8, "dy": 25, "fontSize": 12, "color": "#4D4D4D"}, "encoding": {"x": {"field": "pos", "type": "quantitative"}, "y": {"datum": -0.027}, "text": {"field": "t"}}},
{"data": {"name": "xlab"}, "transform": [{"filter": "datum.kind=='gamma'"}], "mark": {"type": "text", "align": "center", "baseline": "alphabetic", "dy": 41, "fontSize": 15, "color": "#4D4D4D"}, "encoding": {"x": {"datum": 0.493}, "y": {"datum": -0.027}, "text": {"field": "t"}}},
{"data": {"name": "xlab"}, "transform": [{"filter": "datum.kind=='title'"}], "mark": {"type": "text", "align": "right", "baseline": "alphabetic", "dx": 9, "dy": 72.5, "fontSize": 18.5, "color": "#4D4D4D"}, "encoding": {"x": {"datum": 0.493}, "y": {"datum": -0.027}, "text": {"field": "t"}}},
{"data": {"name": "xlab"}, "transform": [{"filter": "datum.kind=='titlesub'"}], "mark": {"type": "text", "align": "left", "baseline": "alphabetic", "dx": 9, "dy": 76, "fontSize": 12, "color": "#4D4D4D"}, "encoding": {"x": {"datum": 0.493}, "y": {"datum": -0.027}, "text": {"field": "t"}}}
]},
{"width": 484, "height": 107,
"layer": [
{"data": {"name": "bars"}, "transform": [{"filter": "datum.test=='EUR' && datum.trait=='height' && datum.ref=='EUR'"}],
"mark": {"type": "bar", "width": 47.5},
"encoding": {
"x": {"field": "pos", "type": "quantitative", "scale": {"domain": [-0.424, 1.41], "nice": false, "zero": false}, "axis": {"title": null, "labelOverlap": false, "tickCount": 50, "values": [-0.25,0,0.2,0.4,0.6,0.8,1,1.25], "labelExpr": "datum.value < -0.1 || datum.value > 1.1 ? '' : format(datum.value, '')"}},
"y": {"field": "r2", "type": "quantitative", "stack": "zero", "scale": {"domain": [-0.027, 0.567], "nice": false, "zero": false}, "axis": {"title": "r²", "labelOverlap": false, "tickCount": 50, "values": [0,0.1,0.2,0.3,0.4,0.5], "labelExpr": "round(datum.value*10)%2==1 ? '' : format(datum.value, '.1f')", "gridWidth": {"condition": {"test": "round(datum.value*10)%2==1", "value": 1.07}, "value": 2.1}}},
"fill": {"field": "maf_eur", "type": "nominal", "scale": {"range": ["#A1D99B","#74C476","#31A354","#006D2C"]}, "legend": {"title": "MAF (EUR)", "legendX": 280.5, "legendY": 1045}},
"order": {"field": "maf_eur", "sort": "descending"}}},
{"data": {"name": "points"}, "transform": [{"filter": "datum.test=='EUR' && datum.trait=='height'"}],
"mark": {"type": "point", "filled": true, "color": "black", "size": 80, "opacity": 1},
"encoding": {"x": {"field": "pos", "type": "quantitative"}, "y": {"field": "r2", "type": "quantitative"}}},
{"data": {"name": "xlab"}, "transform": [{"filter": "datum.kind=='main'"}], "mark": {"type": "text", "align": "right", "baseline": "alphabetic", "dx": 8, "dy": 21.5, "fontSize": 18.5, "color": "#4D4D4D"}, "encoding": {"x": {"field": "pos", "type": "quantitative"}, "y": {"datum": -0.027}, "text": {"field": "t"}}},
{"data": {"name": "xlab"}, "transform": [{"filter": "datum.kind=='sub'"}], "mark": {"type": "text", "align": "left", "baseline": "alphabetic", "dx": 8, "dy": 25, "fontSize": 12, "color": "#4D4D4D"}, "encoding": {"x": {"field": "pos", "type": "quantitative"}, "y": {"datum": -0.027}, "text": {"field": "t"}}},
{"data": {"name": "xlab"}, "transform": [{"filter": "datum.kind=='gamma'"}], "mark": {"type": "text", "align": "center", "baseline": "alphabetic", "dy": 41, "fontSize": 15, "color": "#4D4D4D"}, "encoding": {"x": {"datum": 0.493}, "y": {"datum": -0.027}, "text": {"field": "t"}}},
{"data": {"name": "xlab"}, "transform": [{"filter": "datum.kind=='title'"}], "mark": {"type": "text", "align": "right", "baseline": "alphabetic", "dx": 9, "dy": 72.5, "fontSize": 18.5, "color": "#4D4D4D"}, "encoding": {"x": {"datum": 0.493}, "y": {"datum": -0.027}, "text": {"field": "t"}}},
{"data": {"name": "xlab"}, "transform": [{"filter": "datum.kind=='titlesub'"}], "mark": {"type": "text", "align": "left", "baseline": "alphabetic", "dx": 9, "dy": 76, "fontSize": 12, "color": "#4D4D4D"}, "encoding": {"x": {"datum": 0.493}, "y": {"datum": -0.027}, "text": {"field": "t"}}}
]}
]}
]},
{"bounds": "flush", "spacing": 121, "vconcat": [
{"width": 484, "height": 107,
"layer": [
{"data": {"name": "bars"}, "transform": [{"filter": "datum.test=='EUR' && datum.trait=='MCV' && datum.ref=='MID'"}],
"mark": {"type": "bar", "width": 47.5},
"encoding": {
"x": {"field": "pos", "type": "quantitative", "scale": {"domain": [-0.424, 1.41], "nice": false, "zero": false}, "axis": {"title": null, "labelOverlap": false, "tickCount": 50, "values": [-0.25,0,0.2,0.4,0.6,0.8,1,1.25], "labelExpr": "datum.value < -0.1 || datum.value > 1.1 ? '' : format(datum.value, '')"}},
"y": {"field": "r2", "type": "quantitative", "stack": "zero", "scale": {"domain": [-0.0125, 0.2625], "nice": false, "zero": false}, "axis": {"title": "r²", "labelOverlap": false, "tickCount": 50, "values": [0,0.025,0.05,0.075,0.1,0.125,0.15,0.175,0.2,0.225,0.25], "labelExpr": "round(datum.value*40)%2==1 ? '' : format(datum.value, '.2f')", "gridWidth": {"condition": {"test": "round(datum.value*40)%2==1", "value": 1.07}, "value": 2.1}}},
"color": {"field": "maf", "type": "nominal", "scale": {"range": ["#9ECAE1","#6BAED6","#3182BD","#08519C"]}, "legend": {"title": "MAF (MID)", "legendX": 280.5, "legendY": 999}},
"order": {"field": "maf", "sort": "descending"}}},
{"data": {"name": "points"}, "transform": [{"filter": "datum.test=='EUR' && datum.trait=='MCV'"}],
"mark": {"type": "point", "filled": true, "color": "black", "size": 80, "opacity": 1},
"encoding": {"x": {"field": "pos", "type": "quantitative"}, "y": {"field": "r2", "type": "quantitative"}}},
{"data": {"name": "xlab"}, "transform": [{"filter": "datum.kind=='main'"}], "mark": {"type": "text", "align": "right", "baseline": "alphabetic", "dx": 8, "dy": 21.5, "fontSize": 18.5, "color": "#4D4D4D"}, "encoding": {"x": {"field": "pos", "type": "quantitative"}, "y": {"datum": -0.0125}, "text": {"field": "t"}}},
{"data": {"name": "xlab"}, "transform": [{"filter": "datum.kind=='sub'"}], "mark": {"type": "text", "align": "left", "baseline": "alphabetic", "dx": 8, "dy": 25, "fontSize": 12, "color": "#4D4D4D"}, "encoding": {"x": {"field": "pos", "type": "quantitative"}, "y": {"datum": -0.0125}, "text": {"field": "t"}}},
{"data": {"name": "xlab"}, "transform": [{"filter": "datum.kind=='gamma'"}], "mark": {"type": "text", "align": "center", "baseline": "alphabetic", "dy": 41, "fontSize": 15, "color": "#4D4D4D"}, "encoding": {"x": {"datum": 0.493}, "y": {"datum": -0.0125}, "text": {"field": "t"}}},
{"data": {"name": "xlab"}, "transform": [{"filter": "datum.kind=='title'"}], "mark": {"type": "text", "align": "right", "baseline": "alphabetic", "dx": 9, "dy": 72.5, "fontSize": 18.5, "color": "#4D4D4D"}, "encoding": {"x": {"datum": 0.493}, "y": {"datum": -0.0125}, "text": {"field": "t"}}},
{"data": {"name": "xlab"}, "transform": [{"filter": "datum.kind=='titlesub'"}], "mark": {"type": "text", "align": "left", "baseline": "alphabetic", "dx": 9, "dy": 76, "fontSize": 12, "color": "#4D4D4D"}, "encoding": {"x": {"datum": 0.493}, "y": {"datum": -0.0125}, "text": {"field": "t"}}}
]},
{"width": 484, "height": 107,
"layer": [
{"data": {"name": "bars"}, "transform": [{"filter": "datum.test=='EUR' && datum.trait=='MCV' && datum.ref=='EUR'"}],
"mark": {"type": "bar", "width": 47.5},
"encoding": {
"x": {"field": "pos", "type": "quantitative", "scale": {"domain": [-0.424, 1.41], "nice": false, "zero": false}, "axis": {"title": null, "labelOverlap": false, "tickCount": 50, "values": [-0.25,0,0.2,0.4,0.6,0.8,1,1.25], "labelExpr": "datum.value < -0.1 || datum.value > 1.1 ? '' : format(datum.value, '')"}},
"y": {"field": "r2", "type": "quantitative", "stack": "zero", "scale": {"domain": [-0.0125, 0.2625], "nice": false, "zero": false}, "axis": {"title": "r²", "labelOverlap": false, "tickCount": 50, "values": [0,0.025,0.05,0.075,0.1,0.125,0.15,0.175,0.2,0.225,0.25], "labelExpr": "round(datum.value*40)%2==1 ? '' : format(datum.value, '.2f')", "gridWidth": {"condition": {"test": "round(datum.value*40)%2==1", "value": 1.07}, "value": 2.1}}},
"fill": {"field": "maf_eur", "type": "nominal", "scale": {"range": ["#A1D99B","#74C476","#31A354","#006D2C"]}, "legend": {"title": "MAF (EUR)", "legendX": 280.5, "legendY": 1045}},
"order": {"field": "maf_eur", "sort": "descending"}}},
{"data": {"name": "points"}, "transform": [{"filter": "datum.test=='EUR' && datum.trait=='MCV'"}],
"mark": {"type": "point", "filled": true, "color": "black", "size": 80, "opacity": 1},
"encoding": {"x": {"field": "pos", "type": "quantitative"}, "y": {"field": "r2", "type": "quantitative"}}},
{"data": {"name": "xlab"}, "transform": [{"filter": "datum.kind=='main'"}], "mark": {"type": "text", "align": "right", "baseline": "alphabetic", "dx": 8, "dy": 21.5, "fontSize": 18.5, "color": "#4D4D4D"}, "encoding": {"x": {"field": "pos", "type": "quantitative"}, "y": {"datum": -0.0125}, "text": {"field": "t"}}},
{"data": {"name": "xlab"}, "transform": [{"filter": "datum.kind=='sub'"}], "mark": {"type": "text", "align": "left", "baseline": "alphabetic", "dx": 8, "dy": 25, "fontSize": 12, "color": "#4D4D4D"}, "encoding": {"x": {"field": "pos", "type": "quantitative"}, "y": {"datum": -0.0125}, "text": {"field": "t"}}},
{"data": {"name": "xlab"}, "transform": [{"filter": "datum.kind=='gamma'"}], "mark": {"type": "text", "align": "center", "baseline": "alphabetic", "dy": 41, "fontSize": 15, "color": "#4D4D4D"}, "encoding": {"x": {"datum": 0.493}, "y": {"datum": -0.0125}, "text": {"field": "t"}}},
{"data": {"name": "xlab"}, "transform": [{"filter": "datum.kind=='title'"}], "mark": {"type": "text", "align": "right", "baseline": "alphabetic", "dx": 9, "dy": 72.5, "fontSize": 18.5, "color": "#4D4D4D"}, "encoding": {"x": {"datum": 0.493}, "y": {"datum": -0.0125}, "text": {"field": "t"}}},
{"data": {"name": "xlab"}, "transform": [{"filter": "datum.kind=='titlesub'"}], "mark": {"type": "text", "align": "left", "baseline": "alphabetic", "dx": 9, "dy": 76, "fontSize": 12, "color": "#4D4D4D"}, "encoding": {"x": {"datum": 0.493}, "y": {"datum": -0.0125}, "text": {"field": "t"}}}
]}
]}
]
}
]
}
